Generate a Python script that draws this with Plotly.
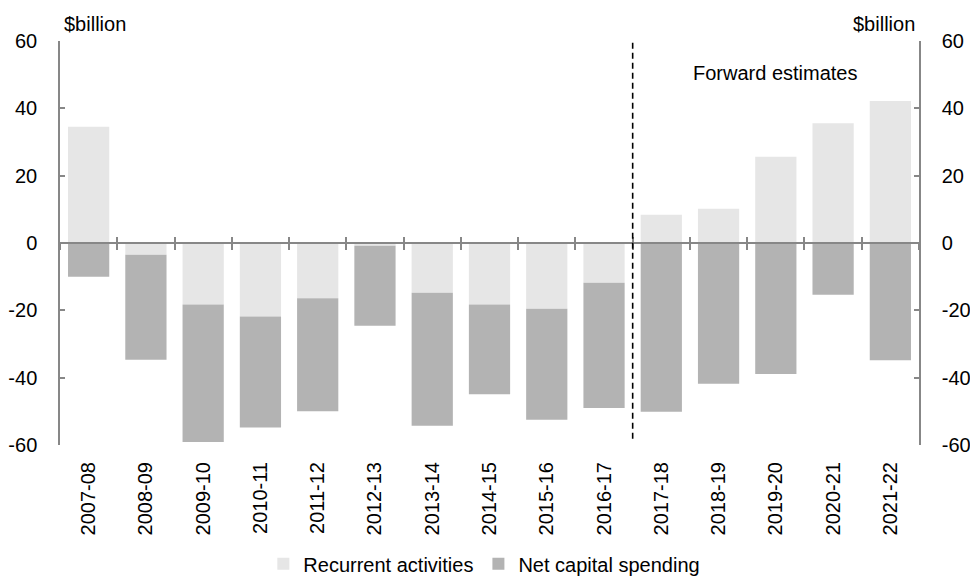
import plotly.graph_objects as go

# ---- data ----
years = ["2007-08", "2008-09", "2009-10", "2010-11", "2011-12", "2012-13", "2013-14",
         "2014-15", "2015-16", "2016-17", "2017-18", "2018-19", "2019-20", "2020-21", "2021-22"]
recurrent = [34.5, -3.5, -18.3, -21.8, -16.4, -0.8, -14.8, -18.3, -19.5, -11.8,
             8.4, 10.2, 25.6, 35.6, 42.2]
net_capital = [-10.0, -31.2, -40.8, -33.0, -33.6, -23.8, -39.5, -26.6, -33.0, -37.2,
               -50.1, -41.8, -38.9, -15.4, -34.8]
first_forecast = "2017-18"
y_min, y_max, y_step = -60, 60, 20
y_ticks = list(range(y_min, y_max + 1, y_step))
y_ticklabels = [str(v) for v in y_ticks]

FONT = "Liberation Sans, Arial, sans-serif"
AXIS_GREY = "#878787"
LIGHT = "#e6e6e6"
DARK = "#b3b3b3"

x_idx = list(range(len(years)))
boundaries = [i - 0.5 for i in range(len(years) + 1)]
x_range = [-0.5, len(years) - 0.5]

fig = go.Figure()
fig.add_trace(go.Bar(x=x_idx, y=recurrent, name="Recurrent activities",
                     marker=dict(color=LIGHT, line=dict(width=0)), width=0.72))
fig.add_trace(go.Bar(x=x_idx, y=net_capital, name="Net capital spending",
                     marker=dict(color=DARK, line=dict(width=0)), width=0.72))

# divider between actuals and forward estimates
div_x = years.index(first_forecast) - 0.5
fig.add_shape(type="line", xref="x", yref="y", x0=div_x, x1=div_x, y0=59.5, y1=-59,
              line=dict(color="black", width=1.6, dash="6px,4px"), layer="above")

fig.add_annotation(x=years.index("2019-20"), y=50.5, xref="x", yref="y",
                   text="Forward estimates", showarrow=False,
                   font=dict(family=FONT, size=20, color="black"))

for xp, anchor, shift in ((0, "left", 2), (1, "right", -2)):
    fig.add_annotation(x=xp, y=1, xref="paper", yref="paper", text="$billion",
                       showarrow=False, xanchor=anchor, yanchor="middle",
                       xshift=shift, yshift=17,
                       font=dict(family=FONT, size=20, color="black"))

zero_pos = (0 - y_min) / (y_max - y_min)
common_y = dict(range=[y_min, y_max], tickvals=y_ticks, ticktext=y_ticklabels,
                ticks="inside", ticklen=5,
                tickcolor=AXIS_GREY, tickwidth=1.5, showline=True, linecolor=AXIS_GREY,
                linewidth=1.5, showgrid=False, zeroline=False, automargin=False,
                tickfont=dict(family=FONT, size=20, color="black"),
                ticklabelstandoff=17, fixedrange=True)

fig.update_layout(
    width=970, height=577,
    margin=dict(l=59.5, r=50.5, t=41, b=132, autoexpand=False),
    paper_bgcolor="white", plot_bgcolor="white",
    barmode="relative",
    showlegend=True,
    legend=dict(orientation="h", x=0.494, xanchor="center", y=-0.294, yanchor="middle",
                traceorder="normal", font=dict(family=FONT, size=20, color="black"),
                itemwidth=30, bgcolor="rgba(0,0,0,0)"),
    xaxis=dict(range=x_range, tickvals=x_idx, ticktext=years, tickangle=-90,
               ticks="", showline=False, showgrid=False, zeroline=False, automargin=False,
               tickfont=dict(family=FONT, size=20, color="black"),
               ticklabelstandoff=12),
    xaxis2=dict(overlaying="x", anchor="free", position=zero_pos, side="bottom",
                range=x_range, tickvals=boundaries, ticks="outside", ticklen=6.5,
                tickwidth=1.5, tickcolor=AXIS_GREY, showticklabels=False,
                showline=True, linecolor=AXIS_GREY, linewidth=1.5, showgrid=False,
                zeroline=False, layer="above traces", automargin=False),
    xaxis3=dict(overlaying="x", anchor="free", position=zero_pos, side="bottom",
                range=x_range, tickvals=boundaries, ticks="inside", ticklen=6.5,
                tickwidth=1.5, tickcolor=AXIS_GREY, showticklabels=False,
                showline=False, showgrid=False, zeroline=False, layer="above traces",
                automargin=False),
    yaxis=dict(side="left", **common_y),
    yaxis2=dict(side="right", overlaying="y", anchor="x", **common_y),
)

# invisible traces to activate the helper axes
fig.add_trace(go.Scatter(x=[x_range[0]], y=[0], xaxis="x2", yaxis="y", mode="markers",
                         marker=dict(opacity=0), showlegend=False, hoverinfo="skip"))
fig.add_trace(go.Scatter(x=[x_range[0]], y=[0], xaxis="x3", yaxis="y", mode="markers",
                         marker=dict(opacity=0), showlegend=False, hoverinfo="skip"))
fig.add_trace(go.Scatter(x=[x_range[0]], y=[0], xaxis="x", yaxis="y2", mode="markers",
                         marker=dict(opacity=0), showlegend=False, hoverinfo="skip"))

fig.write_html("out.html")
